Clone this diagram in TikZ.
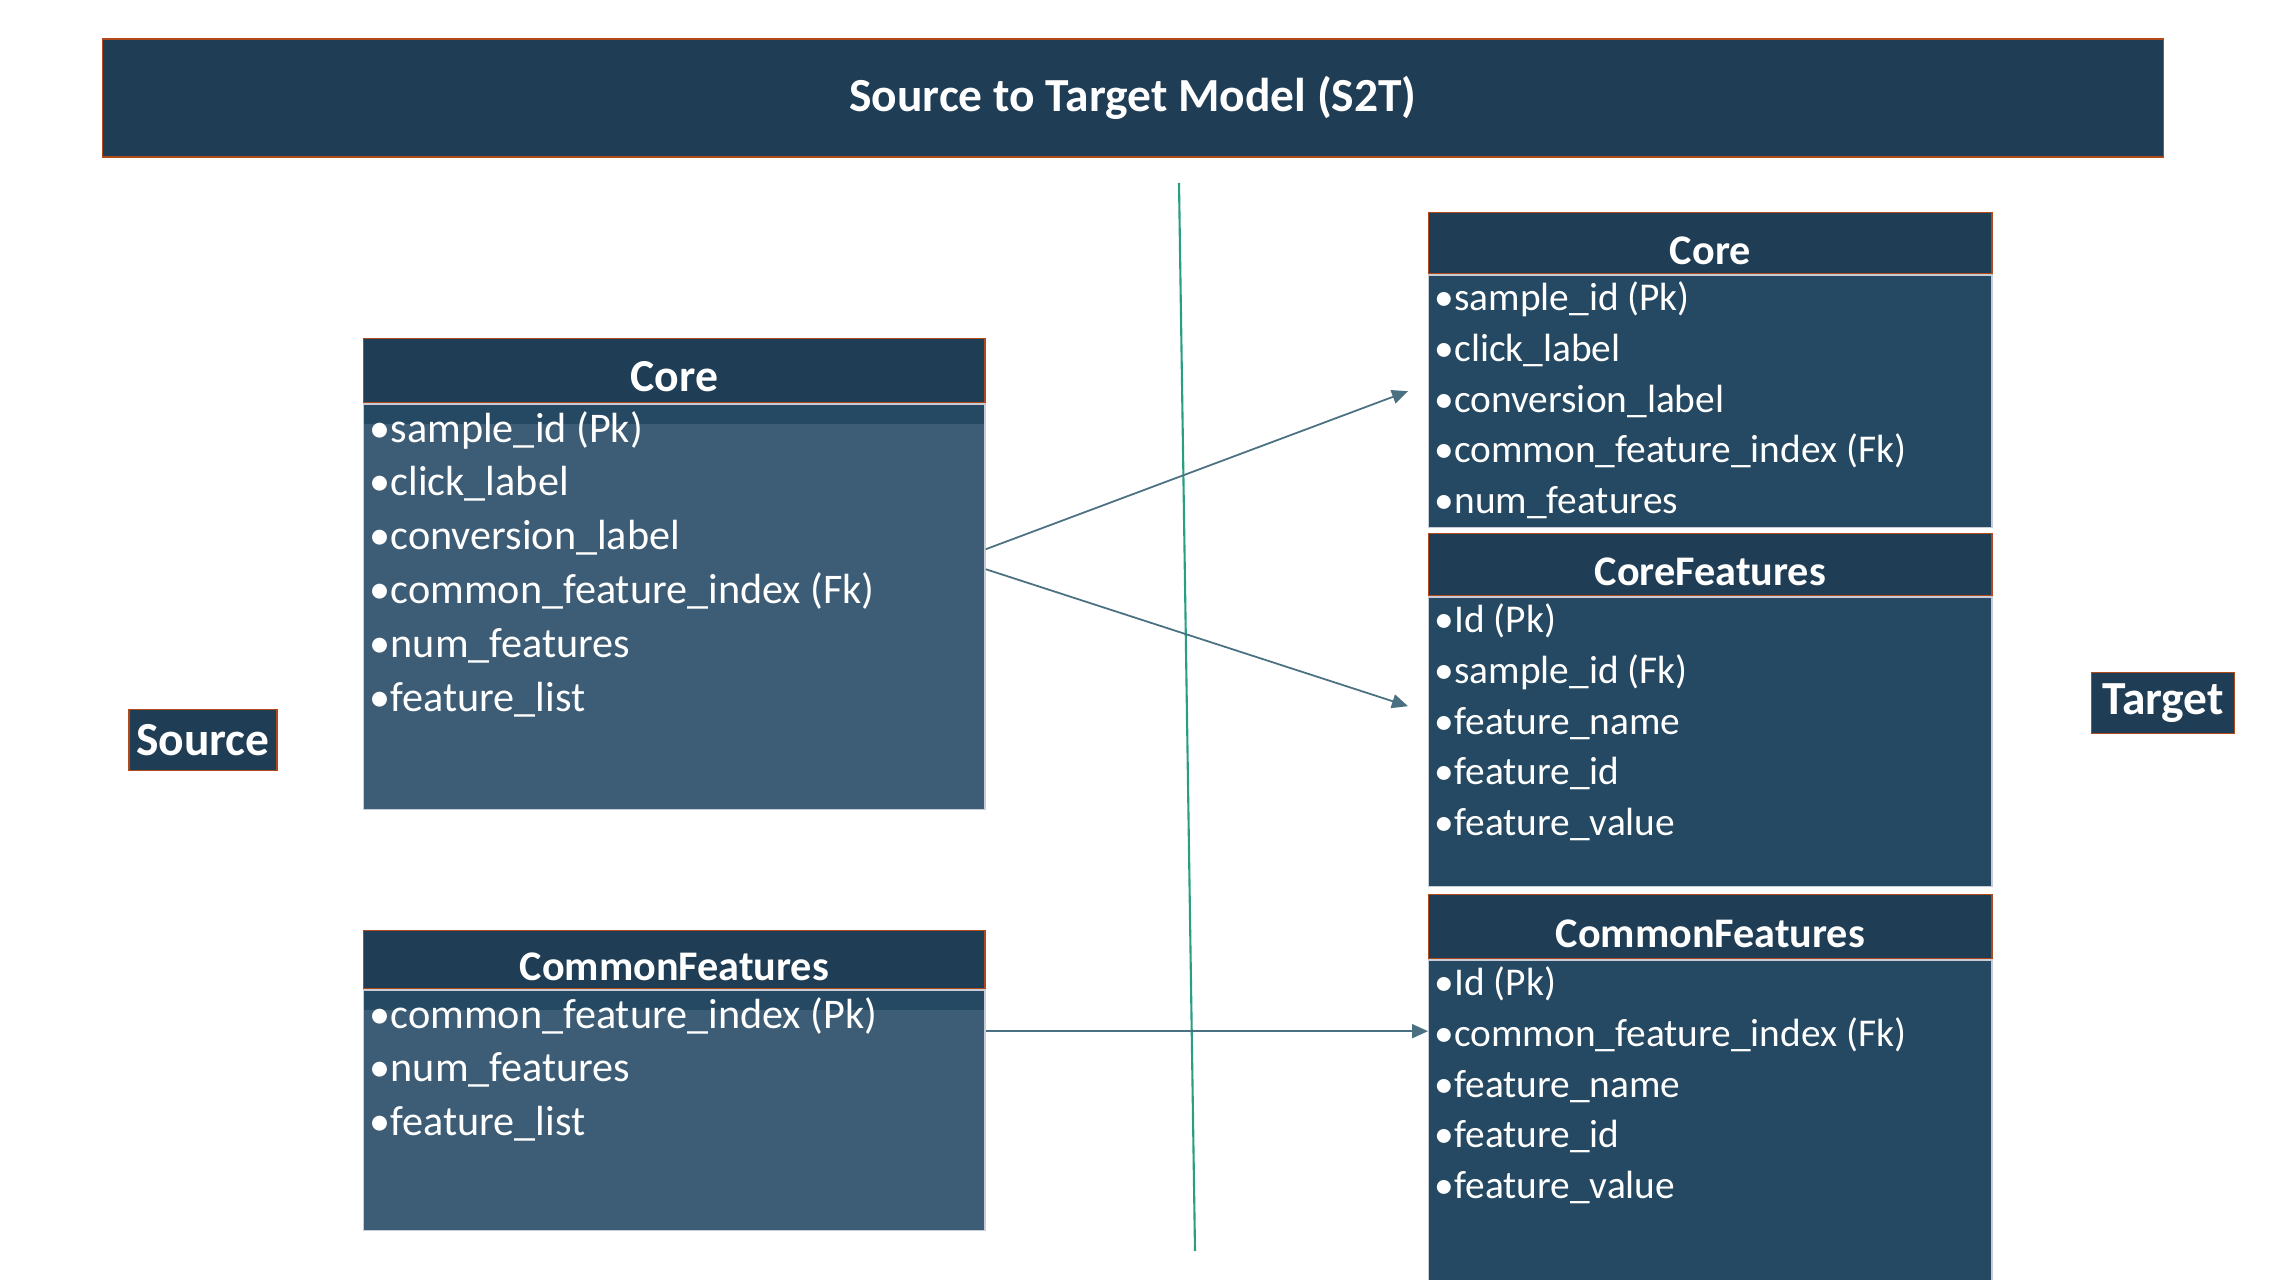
\documentclass[tikz,border=0pt]{standalone}
\usepackage{fontspec}
\setmainfont{Carlito}
\usepackage{xcolor}
\usetikzlibrary{positioning,arrows.meta}
\definecolor{navy}{RGB}{31,61,84}
\definecolor{tblbody}{RGB}{37,73,98}
\definecolor{srcbody}{RGB}{61,92,117}
\definecolor{rust}{RGB}{176,74,26}
\definecolor{rim}{RGB}{200,204,214}
\definecolor{linkblue}{RGB}{74,112,130}
\definecolor{teal}{RGB}{40,160,128}

\begin{document}
\begin{tikzpicture}[
    x=0.01cm, y=-0.01cm,
    banner/.style={rectangle, draw=rust, fill=navy, text=white, inner sep=0pt, font=\bfseries\fontsize{13.5}{16}\selectfont},
    header/.style={rectangle, draw=rust, fill=navy, text=white, inner sep=0pt, anchor=north west, text height=1.2em, text depth=0pt, font=\bfseries\fontsize{12}{14}\selectfont},
    tgtbody/.style={rectangle, draw=rim, fill=tblbody, inner sep=0pt},
    srcbody/.style={rectangle, draw=rim, fill=srcbody, inner sep=0pt,
        path picture={\fill[tblbody] (path picture bounding box.north west) rectangle ([yshift=-0.2cm]path picture bounding box.north east);}},
    items/.style={inner sep=0pt, text=white, align=left},
    srcitems/.style={items, font=\fontsize{12}{15.3}\selectfont},
    tgtitems/.style={items, font=\fontsize{11.2}{14.4}\selectfont},
    link/.style={draw=linkblue, line width=0.5pt, -{Triangle[length=0.16cm, width=0.14cm]}}
]
    \useasboundingbox (0,0) rectangle (2276,1280);

    % title and side labels
    \node[banner, minimum width=20.6cm, minimum height=1.18cm] (title) at (1133,98) {Source to Target Model (S2T)};
    \node[banner, minimum width=1.48cm, minimum height=0.61cm] (srcLabel) at (203,740) {Source};
    \node[banner, minimum width=1.43cm, minimum height=0.61cm] (tgtLabel) at (2163,703) {Target};

    % divider
    \coordinate (divTop) at (1179,183);
    \coordinate (divBot) at (1195,1251);
    \draw[teal, line width=0.6pt] (divTop) -- (divBot);

    % source tables
    \node[header, minimum width=6.21cm, minimum height=0.64cm, font=\bfseries\fontsize{13}{15}\selectfont] (srcCore) at (363,338) {Core};
    \node[srcbody, minimum width=6.21cm, minimum height=4.05cm, below=0pt of srcCore] (srcCoreBody) {};
    \node[srcitems, below right=0.07cm and 0.06cm of srcCoreBody.north west] (srcCoreItems)
        {•sample\_id (Pk)\\•click\_label\\•conversion\_label\\•common\_feature\_index (Fk)\\•num\_features\\•feature\_list};

    \node[header, minimum width=6.21cm, minimum height=0.58cm] (srcCF) at (363,930) {CommonFeatures};
    \node[srcbody, minimum width=6.21cm, minimum height=2.40cm, below=0pt of srcCF] (srcCFBody) {};
    \node[srcitems, below right=0.07cm and 0.06cm of srcCFBody.north west] (srcCFItems)
        {•common\_feature\_index (Pk)\\•num\_features\\•feature\_list};

    % target tables
    \node[header, minimum width=5.63cm, minimum height=0.61cm] (tgtCore) at (1428,212) {Core};
    \node[tgtbody, minimum width=5.63cm, minimum height=2.52cm, below=0pt of tgtCore] (tgtCoreBody) {};
    \node[tgtitems, below right=0.07cm and 0.06cm of tgtCoreBody.north west] (tgtCoreItems)
        {•sample\_id (Pk)\\•click\_label\\•conversion\_label\\•common\_feature\_index (Fk)\\•num\_features};

    \node[header, minimum width=5.63cm, minimum height=0.62cm] (tgtCoreFeat) at (1428,533) {CoreFeatures};
    \node[tgtbody, minimum width=5.63cm, minimum height=2.89cm, below=0pt of tgtCoreFeat] (tgtCoreFeatBody) {};
    \node[tgtitems, below right=0.07cm and 0.06cm of tgtCoreFeatBody.north west] (tgtCoreFeatItems)
        {•Id (Pk)\\•sample\_id (Fk)\\•feature\_name\\•feature\_id\\•feature\_value};

    \node[header, minimum width=5.63cm, minimum height=0.64cm] (tgtCF) at (1428,894) {CommonFeatures};
    \node[tgtbody, minimum width=5.63cm, minimum height=3.26cm, below=0pt of tgtCF] (tgtCFBody) {};
    \node[tgtitems, below right=0.07cm and 0.06cm of tgtCFBody.north west] (tgtCFItems)
        {•Id (Pk)\\•common\_feature\_index (Fk)\\•feature\_name\\•feature\_id\\•feature\_value};

    % mappings
    \draw[link] ([yshift=0.575cm]srcCoreBody.east) -- ([xshift=-0.2cm, yshift=0.1cm]tgtCoreBody.west);
    \draw[link] ([yshift=0.375cm]srcCoreBody.east) -- ([xshift=-0.2cm, yshift=0.355cm]tgtCoreFeatBody.west);
    \draw[link] ([yshift=0.79cm]srcCFBody.east) -- ([yshift=0.79cm]srcCFBody.east -| tgtCFBody.west);
\end{tikzpicture}
\end{document}
